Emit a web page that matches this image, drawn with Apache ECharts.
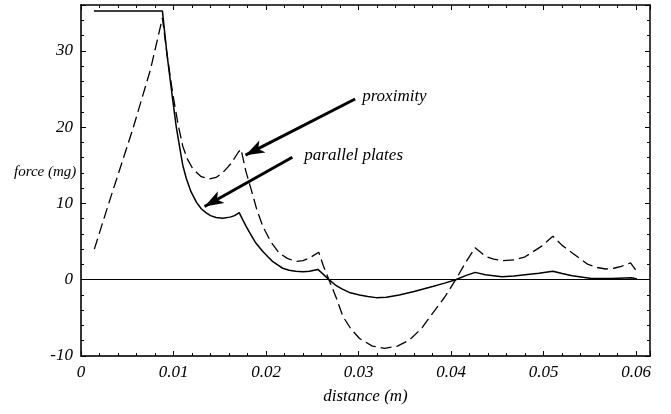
<!DOCTYPE html>
<html>
<head>
<meta charset="utf-8">
<script src="https://cdn.jsdelivr.net/npm/echarts@6/dist/echarts.min.js"></script>
<style>html,body{margin:0;padding:0;background:#fff}#c{width:671px;height:414px}</style>
</head>
<body>
<div id="c"></div>
<script>
// Parallel plates (solid) [distance m, force mg]
const parallelPlates = [
  [0.0014, 35.2], [0.0088, 35.2], [0.0093, 29.5], [0.0099, 23.7], [0.0103, 20.0],
  [0.0107, 17.1], [0.0110, 15.0], [0.0114, 13.2], [0.0119, 11.5], [0.0125, 10.1],
  [0.0130, 9.3], [0.0135, 8.8], [0.0140, 8.4], [0.0146, 8.15], [0.0153, 8.05],
  [0.0161, 8.2], [0.0166, 8.4], [0.0171, 8.8], [0.0175, 7.8], [0.01785, 7.0],
  [0.0184, 5.8], [0.0189, 4.8], [0.01965, 3.7], [0.0202, 3.0], [0.0207, 2.4],
  [0.0213, 1.9], [0.0218, 1.5], [0.0225, 1.25], [0.0232, 1.1], [0.0240, 1.05],
  [0.0247, 1.1], [0.0256, 1.35], [0.0262, 0.7], [0.0268, 0.0], [0.0275, -0.7],
  [0.0282, -1.2], [0.0290, -1.67], [0.0301, -2.0], [0.0310, -2.2], [0.0319, -2.35],
  [0.0330, -2.3], [0.0344, -2.0], [0.0360, -1.55], [0.0380, -0.9], [0.0393, -0.45],
  [0.0405, 0.0], [0.0415, 0.5], [0.0426, 0.96], [0.0437, 0.66], [0.0455, 0.4],
  [0.0468, 0.5], [0.0480, 0.66], [0.0495, 0.85], [0.0510, 1.1], [0.0520, 0.8],
  [0.0531, 0.52], [0.0552, 0.17], [0.0574, 0.17], [0.0595, 0.26], [0.0601, 0.1]
];
// Proximity (dashed)
const proximity = [
  [0.00144, 4.0], [0.00313, 10.5], [0.00564, 19.9], [0.0075, 27.5], [0.0088, 34.3],
  [0.0093, 29.5], [0.0099, 24.5], [0.0105, 20.3], [0.0110, 17.5], [0.0115, 15.8],
  [0.0121, 14.5], [0.0130, 13.5], [0.0139, 13.2], [0.0146, 13.4], [0.0153, 14.0],
  [0.0162, 15.2], [0.0170, 16.7], [0.0173, 17.1], [0.0178, 14.3], [0.0184, 11.8],
  [0.0190, 9.2], [0.01965, 7.0], [0.0205, 5.0], [0.0214, 3.5], [0.0223, 2.8],
  [0.0232, 2.4], [0.0240, 2.5], [0.0247, 2.85], [0.0257, 3.6], [0.0262, 1.8],
  [0.0268, 0.0], [0.0276, -2.4], [0.0283, -4.8], [0.0292, -6.5], [0.0301, -7.7],
  [0.0315, -8.7], [0.0328, -9.0], [0.0342, -8.7], [0.0355, -7.9], [0.0368, -6.4],
  [0.0380, -4.4], [0.0393, -2.3], [0.0405, 0.0], [0.0415, 2.1], [0.0426, 4.2],
  [0.0437, 3.07], [0.0446, 2.7], [0.0455, 2.5], [0.0468, 2.6], [0.0480, 3.0],
  [0.0498, 4.4], [0.0510, 5.7], [0.0520, 4.5], [0.0531, 3.5], [0.0548, 2.0],
  [0.0558, 1.6], [0.0567, 1.4], [0.0576, 1.5], [0.0584, 1.75], [0.0594, 2.2],
  [0.0600, 1.2]
];
const xTicks = { min: 0, max: 0.0615, interval: 0.01 };
const yTicks = { min: -10, max: 36, interval: 10 };
// annotation arrows: [start, tip] in data coordinates, with label text
const annotations = [
  { text: 'proximity', from: [0.02963, 23.68], to: [0.01778, 16.32], gap: 7 },
  { text: 'parallel plates', from: [0.02284, 16.05], to: [0.01336, 9.6], gap: 12 }
];

const font = 'Liberation Serif';
const labelStyle = { fontFamily: font, fontStyle: 'italic', fontSize: 17, color: '#000' };

const chart = echarts.init(document.getElementById('c'), null, { renderer: 'canvas' });
const baseX = {
  type: 'value', min: xTicks.min, max: xTicks.max, interval: xTicks.interval,
  splitLine: { show: false }, minorSplitLine: { show: false },
  minorTick: { show: true, splitNumber: 5, length: 3, lineStyle: { color: '#000', width: 1 } },
  axisTick: { show: true, inside: true, length: 5, lineStyle: { color: '#000', width: 1 } }
};
const baseY = {
  type: 'value', min: yTicks.min, max: yTicks.max, interval: yTicks.interval,
  splitLine: { show: false }, minorSplitLine: { show: false },
  minorTick: { show: true, splitNumber: 5, length: 3, lineStyle: { color: '#000', width: 1 } },
  axisTick: { show: true, inside: true, length: 5, lineStyle: { color: '#000', width: 1 } }
};
const arrowLines = annotations.map(a => [
  { coord: a.from, symbol: 'none', lineStyle: { width: 3, color: '#000' } },
  { coord: a.to, symbol: 'arrow', symbolSize: [10, 19], lineStyle: { width: 3, color: '#000' } }
]);
chart.setOption({
  animation: false,
  backgroundColor: '#fff',
  grid: { left: 81, right: 21, top: 5, bottom: 58, containLabel: false },
  xAxis: [
    Object.assign({}, baseX, {
      position: 'bottom',
      axisLine: { show: true, onZero: false, lineStyle: { color: '#333', width: 2 } },
      axisLabel: Object.assign({}, labelStyle, { margin: 8, showMaxLabel: false,
        formatter: v => (v === 0 ? '0' : v.toFixed(2)) }),
      name: 'distance (m)', nameLocation: 'middle', nameGap: 32,
      nameTextStyle: { fontFamily: font, fontStyle: 'italic', fontSize: 17, color: '#000' }
    }),
    Object.assign({}, baseX, {
      position: 'top',
      axisLine: { show: true, onZero: false, lineStyle: { color: '#000', width: 1.5 } },
      axisLabel: { show: false }
    })
  ],
  yAxis: [
    Object.assign({}, baseY, {
      position: 'left',
      axisLine: { show: true, onZero: false, lineStyle: { color: '#333', width: 2 } },
      axisLabel: Object.assign({}, labelStyle, { margin: 8, showMaxLabel: false })
    }),
    Object.assign({}, baseY, {
      position: 'right',
      axisLine: { show: true, onZero: false, lineStyle: { color: '#000', width: 1.5 } },
      axisLabel: { show: false }
    })
  ],
  series: [
    {
      name: 'parallel plates', type: 'line', xAxisIndex: 0, yAxisIndex: 0,
      data: parallelPlates, symbol: 'none', smooth: false,
      lineStyle: { color: '#000', width: 1.5 },
      markLine: {
        silent: true, animation: false,
        data: [
          [{ yAxis: 0, x: 81, symbol: 'none' }, { yAxis: 0, x: 650, symbol: 'none' }]
        ].concat(arrowLines),
        lineStyle: { color: '#000', width: 1.2, type: 'solid' },
        label: { show: false }
      }
    },
    {
      name: 'proximity', type: 'line', xAxisIndex: 0, yAxisIndex: 0,
      data: proximity, symbol: 'none', smooth: false,
      lineStyle: { color: '#000', width: 1.3, type: [11, 5] }
    }
  ]
});

const texts = annotations.map(a => {
  const p = chart.convertToPixel({ xAxisIndex: 0, yAxisIndex: 0 }, a.from);
  return {
    type: 'text', x: p[0] + a.gap, y: p[1] - 2,
    style: { text: a.text, fontFamily: font, fontStyle: 'italic', fontSize: 17,
      fill: '#000', verticalAlign: 'middle' }
  };
});
texts.push({
  type: 'text', left: 14, top: 165,
  style: { text: 'force (mg)', fontFamily: font, fontStyle: 'italic', fontSize: 15, fill: '#000' }
});
chart.setOption({ graphic: texts });
</script>
</body>
</html>
